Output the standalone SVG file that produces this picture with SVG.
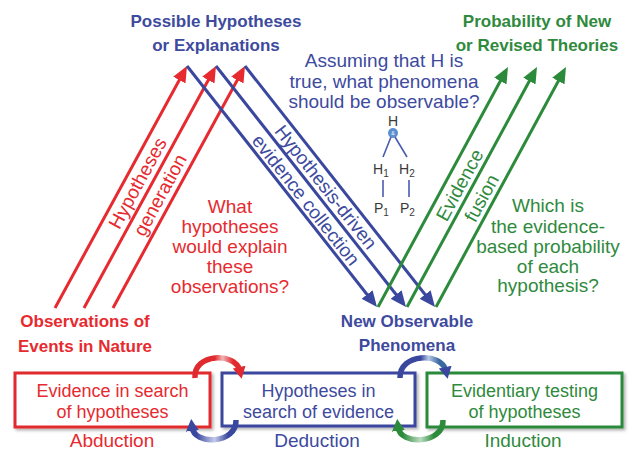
<svg xmlns="http://www.w3.org/2000/svg" width="632" height="451" viewBox="0 0 632 451">
<defs>
<style>
text{font-family:"Liberation Sans",Arial,sans-serif;}
.title{font-size:17px;font-weight:bold;text-anchor:middle;}
.lbl{font-size:19px;text-anchor:middle;}
.box-t{font-size:18px;text-anchor:middle;}
.red{fill:#e62a2f;}
.blue{fill:#3d4a9e;}
.green{fill:#2f8a3d;}
.gray{fill:#3a3a3a;}
.ln-red{stroke:#e62a2f;stroke-width:3;fill:none;marker-end:url(#ah-red);}
.ln-blue{stroke:#3a479e;stroke-width:3;fill:none;marker-end:url(#ah-blue);}
.ln-green{stroke:#2c8a3b;stroke-width:3;fill:none;marker-end:url(#ah-green);}
.box{fill:#fff;stroke-width:3;filter:url(#sh);}
.tree{stroke:#4a5cb0;stroke-width:1.6;fill:none;}
.cyc{stroke-width:5.5;fill:none;}
</style>
<filter id="sh" x="-10%" y="-20%" width="130%" height="150%">
<feDropShadow dx="2" dy="2" stdDeviation="1.5" flood-color="#000" flood-opacity="0.3"/>
</filter>
<marker id="ah-red" markerUnits="userSpaceOnUse" markerWidth="16" markerHeight="14" viewBox="0 0 16 14" refX="6" refY="7" orient="auto"><path d="M0,0 L16,7 L0,14 z" fill="#e62a2f"/></marker>
<marker id="ah-blue" markerUnits="userSpaceOnUse" markerWidth="16" markerHeight="14" viewBox="0 0 16 14" refX="6" refY="7" orient="auto"><path d="M0,0 L16,7 L0,14 z" fill="#3a479e"/></marker>
<marker id="ah-green" markerUnits="userSpaceOnUse" markerWidth="16" markerHeight="14" viewBox="0 0 16 14" refX="6" refY="7" orient="auto"><path d="M0,0 L16,7 L0,14 z" fill="#2c8a3b"/></marker>
<marker id="ch-red" markerUnits="userSpaceOnUse" markerWidth="12" markerHeight="13" viewBox="0 0 12 13" refX="4" refY="6.5" orient="auto"><path d="M0,0 L12,6.5 L0,13 z" fill="#e02a2f"/></marker>
<marker id="ch-blue" markerUnits="userSpaceOnUse" markerWidth="12" markerHeight="13" viewBox="0 0 12 13" refX="4" refY="6.5" orient="auto"><path d="M0,0 L12,6.5 L0,13 z" fill="#3a479e"/></marker>
<marker id="ch-green" markerUnits="userSpaceOnUse" markerWidth="12" markerHeight="13" viewBox="0 0 12 13" refX="4" refY="6.5" orient="auto"><path d="M0,0 L12,6.5 L0,13 z" fill="#2c8a3b"/></marker>
<linearGradient id="g-l-red" gradientUnits="userSpaceOnUse" x1="194" y1="0" x2="240" y2="0"><stop offset="0" stop-color="#e02a2f"/><stop offset="0.45" stop-color="#e02a2f"/><stop offset="0.62" stop-color="#f3b3b5"/><stop offset="0.85" stop-color="#e02a2f"/></linearGradient>
<linearGradient id="g-l-blue" gradientUnits="userSpaceOnUse" x1="192" y1="0" x2="237" y2="0"><stop offset="0.1" stop-color="#3a479e"/><stop offset="0.5" stop-color="#c4cbea"/><stop offset="0.8" stop-color="#3a479e"/></linearGradient>
<linearGradient id="g-r-blue" gradientUnits="userSpaceOnUse" x1="400" y1="0" x2="446" y2="0"><stop offset="0" stop-color="#3a479e"/><stop offset="0.45" stop-color="#3a479e"/><stop offset="0.62" stop-color="#b8c8e6"/><stop offset="0.85" stop-color="#3a68a0"/></linearGradient>
<linearGradient id="g-r-green" gradientUnits="userSpaceOnUse" x1="398" y1="0" x2="443" y2="0"><stop offset="0.1" stop-color="#2c8a3b"/><stop offset="0.5" stop-color="#bcdcc3"/><stop offset="0.8" stop-color="#2c8a3b"/></linearGradient>
</defs>

<rect x="0" y="0" width="632" height="451" fill="#ffffff"/>

<g id="connectors">
<line class="ln-red" x1="55" y1="308" x2="182.2" y2="74.8"/>
<line class="ln-red" x1="84" y1="308" x2="211.2" y2="74.8"/>
<line class="ln-red" x1="113" y1="308" x2="240.2" y2="74.8"/>
<line class="ln-blue" x1="187" y1="66" x2="370.8" y2="299.2"/>
<line class="ln-blue" x1="216" y1="66" x2="399.8" y2="299.2"/>
<line class="ln-blue" x1="245" y1="66" x2="428.8" y2="299.2"/>
<line class="ln-green" x1="378" y1="307" x2="503.2" y2="75.8"/>
<line class="ln-green" x1="407" y1="307" x2="532.2" y2="75.8"/>
<line class="ln-green" x1="436" y1="307" x2="561.2" y2="75.8"/>
</g>

<g id="arrow-labels">
<text class="lbl red" transform="translate(137.5,183) rotate(-61.4)" dy="0.35em">Hypotheses</text>
<text class="lbl red" transform="translate(160,195) rotate(-61.4)" dy="0.35em">generation</text>
<text class="lbl blue" transform="translate(326,187) rotate(51.75)" dy="0.35em">Hypothesis-driven</text>
<text class="lbl blue" transform="translate(306,200) rotate(51.75)" dy="0.35em">evidence collection</text>
<text class="lbl green" transform="translate(459.5,185) rotate(-61.5)" dy="0.35em">Evidence</text>
<text class="lbl green" transform="translate(481.5,198) rotate(-61.5)" dy="0.35em">fusion</text>
</g>

<g id="possible-hypotheses">
<text class="title blue" x="216" y="27">Possible Hypotheses</text>
<text class="title blue" x="216" y="51">or Explanations</text>
</g>

<g id="probability-theories">
<text class="title green" x="537" y="27">Probability of New</text>
<text class="title green" x="537" y="51">or Revised  Theories</text>
</g>

<g id="observations">
<text class="title red" x="85" y="327">Observations of</text>
<text class="title red" x="85" y="352">Events in Nature</text>
</g>

<g id="new-phenomena">
<text class="title blue" x="407" y="327">New Observable</text>
<text class="title blue" x="407" y="351">Phenomena</text>
</g>

<g id="question-abduction">
<text class="lbl red" x="230" y="213">What</text>
<text class="lbl red" x="230" y="233">hypotheses</text>
<text class="lbl red" x="230" y="253">would explain</text>
<text class="lbl red" x="230" y="273">these</text>
<text class="lbl red" x="230" y="293">observations?</text>
</g>

<g id="question-deduction">
<text class="lbl blue" x="384" y="67">Assuming that H is</text>
<text class="lbl blue" x="384" y="88">true, what phenomena</text>
<text class="lbl blue" x="384" y="108">should be observable?</text>
</g>

<g id="question-induction">
<text class="lbl green" x="548" y="212">Which is</text>
<text class="lbl green" x="548" y="233">the evidence-</text>
<text class="lbl green" x="548" y="253">based probability</text>
<text class="lbl green" x="548" y="273">of each</text>
<text class="lbl green" x="548" y="292">hypothesis?</text>
</g>

<g id="h-tree">
<text class="gray" x="393" y="126" font-size="14" text-anchor="middle">H</text>
<circle cx="393" cy="133" r="5" fill="#5b8fd0"/>
<text x="393" y="135" font-size="5" fill="#fff" text-anchor="middle">&amp;</text>
<path class="tree" d="M391,137 L383,157 M395,137 L407,157 M383,180 L383,197 M409,180 L409,197"/>
<text class="gray" x="373" y="174" font-size="14">H<tspan font-size="10" dy="3">1</tspan></text>
<text class="gray" x="399" y="174" font-size="14">H<tspan font-size="10" dy="3">2</tspan></text>
<text class="gray" x="374" y="213" font-size="14">P<tspan font-size="10" dy="3">1</tspan></text>
<text class="gray" x="400" y="213" font-size="14">P<tspan font-size="10" dy="3">2</tspan></text>
</g>

<g id="box-abduction">
<rect class="box" x="15" y="373" width="195" height="54" stroke="#e02a2f"/>
<text class="box-t red" x="112.5" y="397">Evidence in search</text>
<text class="box-t red" x="112.5" y="418">of hypotheses</text>
<text class="lbl red" x="112" y="447">Abduction</text>
</g>

<g id="box-deduction">
<rect class="box" x="222" y="373" width="193" height="53" stroke="#3a479e"/>
<text class="box-t blue" x="318.5" y="397">Hypotheses in</text>
<text class="box-t blue" x="318.5" y="418">search of evidence</text>
<text class="lbl blue" x="317" y="447">Deduction</text>
</g>

<g id="box-induction">
<rect class="box" x="427" y="373" width="195" height="54" stroke="#2c8a3b"/>
<text class="box-t green" x="524.5" y="397">Evidentiary testing</text>
<text class="box-t green" x="524.5" y="418">of hypotheses</text>
<text class="lbl green" x="523" y="447">Induction</text>
</g>

<g id="cycle-arrows">
<path class="cyc" stroke="url(#g-l-red)" marker-end="url(#ch-red)" d="M195,378 C193,353 236,352 240,371"/>
<path class="cyc" stroke="url(#g-l-blue)" marker-end="url(#ch-blue)" d="M236,420 C237,444 194,446 192,427"/>
<path class="cyc" stroke="url(#g-r-blue)" marker-end="url(#ch-blue)" d="M400,378 C399,353 442,352 446,371"/>
<path class="cyc" stroke="url(#g-r-green)" marker-end="url(#ch-green)" d="M443,420 C444,444 400,446 398,427"/>
</g>
</svg>
